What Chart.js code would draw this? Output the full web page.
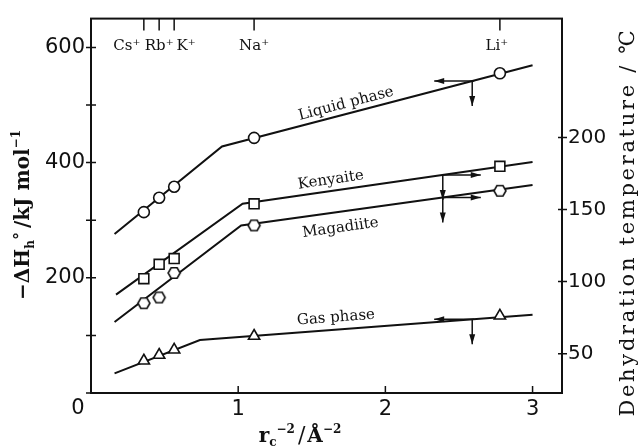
<!DOCTYPE html>
<html>
<head>
<meta charset="utf-8">
<script src="https://cdn.jsdelivr.net/npm/chart.js@4.4.0/dist/chart.umd.min.js"></script>
<style>
  html, body { margin: 0; padding: 0; background: #fff; }
  #wrap { width: 640px; height: 446px; }
</style>
</head>
<body>
<div id="wrap"><canvas id="chart" width="640" height="446"></canvas></div>
<script>
// Cations and their r^-2 values (Å^-2)
const ions = ["Cs⁺", "Rb⁺", "K⁺", "Na⁺", "Li⁺"];
const ionX = [0.359, 0.463, 0.565, 1.108, 2.778];

// measured points: -ΔH (kJ/mol) for liquid/gas, dehydration temperature (°C) for the silicates
const liquidVals = [314, 339, 358, 443, 555];
const kenyaiteVals = [102, 112, 116, 154, 180];
const magadiiteVals = [85, 89, 106, 139, 163];
const gasVals = [56, 66, 75, 99, 134];

// fitted lines, two straight segments each
const liquidFitX = [0.16, 0.89, 3.0];
const liquidFitY = [276, 428, 569];
const kenyaiteFitX = [0.17, 1.03, 3.0];
const kenyaiteFitY = [91, 154, 183];
const magadiiteFitX = [0.16, 1.02, 3.0];
const magadiiteFitY = [72, 139, 167];
const gasFitX = [0.16, 0.74, 3.0];
const gasFitY = [34, 92, 136];

// axis ticks
const leftTicks = [0, 100, 200, 300, 400, 500, 600];
const leftLabels = [200, 400, 600];
const rightTicks = [50, 100, 150, 200];
const bottomTicks = [0, 1, 2, 3];

const INK = "#111";

const pts = (xs, ys) => xs.map((x, i) => ({ x: x, y: ys[i] }));

// hexagon marker for magadiite
function hexagon(r) {
  const s = Math.ceil(r * 2 + 4);
  const c = document.createElement("canvas");
  c.width = s; c.height = s;
  const g = c.getContext("2d");
  g.beginPath();
  for (let i = 0; i < 6; i++) {
    const a = Math.PI / 3 * i;
    g.lineTo(s / 2 + r * Math.cos(a), s / 2 + r * Math.sin(a));
  }
  g.closePath();
  g.fillStyle = "#fff"; g.fill();
  g.lineWidth = 1.6; g.strokeStyle = INK; g.stroke();
  return c;
}

function interp(xs, ys, x) {
  for (let i = 0; i < xs.length - 1; i++) {
    if (x <= xs[i + 1]) return ys[i] + (ys[i + 1] - ys[i]) * (x - xs[i]) / (xs[i + 1] - xs[i]);
  }
  return ys[ys.length - 1];
}

// text made of pieces (for sub/superscripts)
function drawRich(ctx, parts, cx, cy, rot) {
  ctx.save();
  ctx.translate(cx, cy);
  ctx.rotate(rot);
  let w = 0;
  parts.forEach(p => { ctx.font = p.font; w += ctx.measureText(p.t).width + (p.gap || 0); });
  let x = -w / 2;
  ctx.textBaseline = "alphabetic";
  ctx.textAlign = "left";
  parts.forEach(p => {
    ctx.font = p.font;
    ctx.fillText(p.t, x, p.dy || 0);
    x += ctx.measureText(p.t).width + (p.gap || 0);
  });
  ctx.restore();
}

function arrow(ctx, x1, y1, x2, y2) {
  const a = Math.atan2(y2 - y1, x2 - x1);
  ctx.beginPath();
  ctx.moveTo(x1, y1);
  ctx.lineTo(x2, y2);
  ctx.stroke();
  ctx.beginPath();
  ctx.moveTo(x2, y2);
  ctx.lineTo(x2 - 10 * Math.cos(a) + 3 * Math.sin(a), y2 - 10 * Math.sin(a) - 3 * Math.cos(a));
  ctx.lineTo(x2 - 10 * Math.cos(a) - 3 * Math.sin(a), y2 - 10 * Math.sin(a) + 3 * Math.cos(a));
  ctx.closePath();
  ctx.fill();
}

const decor = {
  id: "decor",
  afterDraw(chart) {
    const ctx = chart.ctx;
    const a = chart.chartArea;
    const xs = chart.scales.x, yl = chart.scales.y, yr = chart.scales.y2;
    ctx.save();
    ctx.strokeStyle = INK;
    ctx.fillStyle = INK;
    ctx.lineWidth = 2;
    ctx.strokeRect(a.left, a.top, a.right - a.left, a.bottom - a.top);

    // tick marks
    ctx.lineWidth = 1.5;
    ctx.beginPath();
    leftTicks.forEach(v => { const y = yl.getPixelForValue(v); ctx.moveTo(a.left - 5, y); ctx.lineTo(a.left + 5, y); });
    rightTicks.forEach(v => { const y = yr.getPixelForValue(v); ctx.moveTo(a.right - 4, y); ctx.lineTo(a.right + 5, y); });
    bottomTicks.forEach(v => { const x = xs.getPixelForValue(v); ctx.moveTo(x, a.bottom); ctx.lineTo(x, a.bottom - 7); });
    ionX.forEach(v => { const x = xs.getPixelForValue(v); ctx.moveTo(x, a.top); ctx.lineTo(x, a.top + 12); });
    ctx.stroke();

    // ion names under the top ticks
    const nudge = [-17, 0, 12, 0, -3];
    ctx.font = "15px 'DejaVu Serif'";
    ctx.textAlign = "center";
    ctx.textBaseline = "alphabetic";
    ions.forEach((t, i) => ctx.fillText(t, xs.getPixelForValue(ionX[i]) + nudge[i], a.top + 31));

    // origin label
    ctx.font = "21px 'DejaVu Sans'";
    ctx.textBaseline = "middle";
    ctx.fillText("0", xs.getPixelForValue(0) - 13, a.bottom + 16);

    // curve labels and axis arrows
    const curves = [
      { fx: liquidFitX, fy: liquidFitY, sc: yl, name: "Liquid phase", at: 1.75, off: -6, ax: 2.59, dir: -1 },
      { fx: kenyaiteFitX, fy: kenyaiteFitY, sc: yr, name: "Kenyaite", at: 1.64, off: -7, ax: 2.39, dir: 1 },
      { fx: magadiiteFitX, fy: magadiiteFitY, sc: yr, name: "Magadiite", at: 1.68, off: 20, ax: 2.39, dir: 1 },
      { fx: gasFitX, fy: gasFitY, sc: yl, name: "Gas phase", at: 1.67, off: -8, ax: 2.59, dir: -1 }
    ];
    ctx.font = "15px 'DejaVu Serif'";
    ctx.textAlign = "center";
    ctx.textBaseline = "alphabetic";
    curves.forEach(c => {
      const n = c.fx.length;
      const p1x = xs.getPixelForValue(c.fx[n - 2]), p1y = c.sc.getPixelForValue(c.fy[n - 2]);
      const p2x = xs.getPixelForValue(c.fx[n - 1]), p2y = c.sc.getPixelForValue(c.fy[n - 1]);
      const ang = Math.atan2(p2y - p1y, p2x - p1x);
      const px = xs.getPixelForValue(c.at), py = c.sc.getPixelForValue(interp(c.fx, c.fy, c.at));
      ctx.save();
      ctx.translate(px, py);
      ctx.rotate(ang);
      ctx.fillText(c.name, 0, c.off);
      ctx.restore();

      const qx = xs.getPixelForValue(c.ax), qy = c.sc.getPixelForValue(interp(c.fx, c.fy, c.ax));
      ctx.lineWidth = 1.5;
      arrow(ctx, qx + (c.dir < 0 ? 2 : 0), qy, qx + c.dir * 38, qy);
      arrow(ctx, qx, qy, qx, qy + 25);
    });

    // axis titles
    const bold = "bold 20px 'DejaVu Serif'";
    const small = "bold 12px 'DejaVu Serif'";
    drawRich(ctx, [
      { t: "−ΔH", font: bold },
      { t: "h", font: small, dy: 5 },
      { t: "°", font: "bold 16px 'DejaVu Serif'", dy: -4, gap: 4 },
      { t: "/kJ mol", font: bold },
      { t: "−1", font: small, dy: -9 }
    ], 29, 215, -Math.PI / 2);

    drawRich(ctx, [
      { t: "r", font: bold },
      { t: "c", font: small, dy: 4 },
      { t: "−2", font: small, dy: -9, gap: 3 },
      { t: "/", font: "22px 'DejaVu Serif'", gap: 2 },
      { t: "Å", font: bold },
      { t: "−2", font: small, dy: -9 }
    ], 300, 442, 0);

    ctx.save();
    ctx.translate(634, 222);
    ctx.rotate(-Math.PI / 2);
    ctx.font = "21px 'DejaVu Serif'";
    ctx.letterSpacing = "2.7px";
    ctx.textAlign = "center";
    ctx.textBaseline = "alphabetic";
    ctx.fillText("Dehydration temperature / ℃", 0, 0);
    ctx.restore();

    ctx.restore();
  }
};

const markerBase = {
  showLine: false,
  borderColor: INK,
  backgroundColor: "#fff",
  pointBackgroundColor: "#fff",
  pointBorderColor: INK,
  pointBorderWidth: 1.6
};
const fitBase = {
  showLine: true,
  borderColor: INK,
  borderWidth: 2,
  pointRadius: 0,
  tension: 0,
  fill: false
};

new Chart(document.getElementById("chart"), {
  type: "scatter",
  data: {
    datasets: [
      { ...markerBase, label: "Liquid phase", data: pts(ionX, liquidVals), yAxisID: "y", pointStyle: "circle", pointRadius: 5.5 },
      { ...markerBase, label: "Kenyaite", data: pts(ionX, kenyaiteVals), yAxisID: "y2", pointStyle: "rect", pointRadius: 7 },
      { ...markerBase, label: "Magadiite", data: pts(ionX, magadiiteVals), yAxisID: "y2", pointStyle: hexagon(6), pointRadius: 6 },
      { ...markerBase, label: "Gas phase", data: pts(ionX, gasVals), yAxisID: "y", pointStyle: "triangle", pointRadius: 6.5 },
      { ...fitBase, label: "liquid fit", data: pts(liquidFitX, liquidFitY), yAxisID: "y" },
      { ...fitBase, label: "kenyaite fit", data: pts(kenyaiteFitX, kenyaiteFitY), yAxisID: "y2" },
      { ...fitBase, label: "magadiite fit", data: pts(magadiiteFitX, magadiiteFitY), yAxisID: "y2" },
      { ...fitBase, label: "gas fit", data: pts(gasFitX, gasFitY), yAxisID: "y" }
    ]
  },
  options: {
    responsive: false,
    animation: false,
    devicePixelRatio: 1,
    layout: { padding: { top: 12, left: 0, right: 0, bottom: 0 } },
    plugins: { legend: { display: false }, tooltip: { enabled: false } },
    scales: {
      x: {
        type: "linear", min: 0, max: 3.2,
        afterBuildTicks: s => { s.ticks = bottomTicks.map(v => ({ value: v })); },
        afterFit: s => { s.height = 53; },
        grid: { display: false, drawTicks: false },
        border: { display: false },
        ticks: { color: INK, padding: 4, font: { family: "DejaVu Sans", size: 21 }, callback: v => (v === 0 ? "" : String(v)) }
      },
      y: {
        type: "linear", position: "left", min: 0, max: 650,
        afterBuildTicks: s => { s.ticks = leftTicks.map(v => ({ value: v })); },
        afterFit: s => { s.width = 91; },
        grid: { display: false, drawTicks: false },
        border: { display: false },
        ticks: { color: INK, padding: 6, font: { family: "DejaVu Sans", size: 21 }, callback: v => (leftLabels.includes(v) ? String(v) : "") }
      },
      y2: {
        type: "linear", position: "right", min: 22.7, max: 282.5,
        afterBuildTicks: s => { s.ticks = rightTicks.map(v => ({ value: v })); },
        afterFit: s => { s.width = 78; },
        grid: { display: false, drawTicks: false },
        border: { display: false },
        ticks: { color: INK, padding: 6, font: { family: "DejaVu Sans", size: 20 }, callback: v => String(v) }
      }
    }
  },
  plugins: [decor]
});
</script>
</body>
</html>
